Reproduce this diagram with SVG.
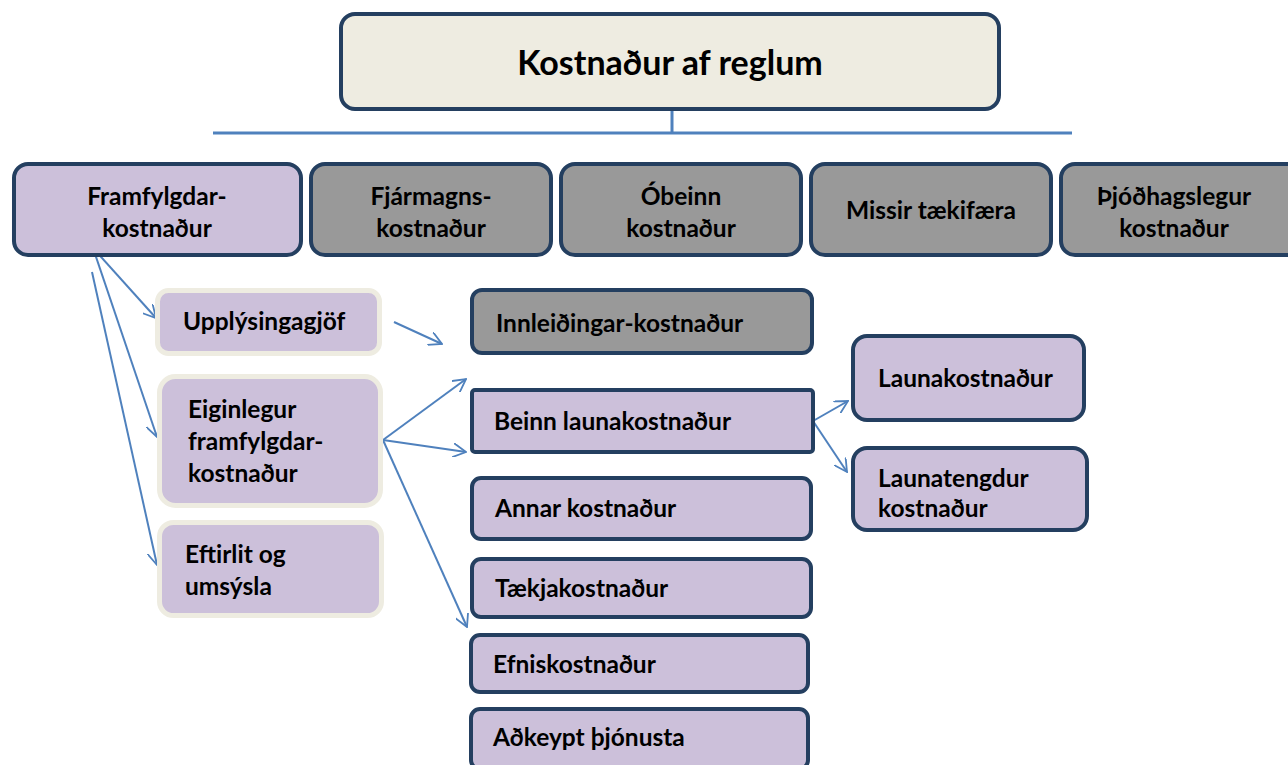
<svg xmlns="http://www.w3.org/2000/svg" width="1288" height="765" viewBox="0 0 1288 765">
<style>
.t{font-family:Lato,"Liberation Sans",sans-serif;font-weight:bold;fill:#000;font-size:24.5px}
.big{font-size:34px}
.dk{stroke:#243F60;stroke-width:4}
.lt{stroke:#EEECE1;stroke-width:5;fill:#CCC0DA}
.pu{fill:#CCC0DA}
.gr{fill:#999999}
.c{fill:none;stroke:#4F81BD;stroke-width:2;marker-end:url(#ah)}
</style>
<defs>
<marker id="ah" viewBox="0 0 14 14" refX="13" refY="7" markerWidth="14" markerHeight="14" markerUnits="userSpaceOnUse" orient="auto">
<path d="M0,0 L13,7 L0,14" fill="none" stroke="#4F81BD" stroke-width="1.8"/>
</marker>
</defs>
<rect width="1288" height="765" fill="#fff"/>
<g id="connectors">
<path d="M672,110 V133" fill="none" stroke="#4F81BD" stroke-width="3"/>
<path d="M213,133 H1072" fill="none" stroke="#4F81BD" stroke-width="3"/>
<path class="c" d="M93,248 L156,318"/>
<path class="c" d="M93,248 L157,437"/>
<path class="c" d="M92,272 L157,565"/>
<path class="c" d="M394,322 L442,344"/>
<path class="c" d="M383,440 L466,379"/>
<path class="c" d="M383,440 L466,452"/>
<path class="c" d="M383,440 L467,627"/>
<path class="c" d="M813,421 L848,401"/>
<path class="c" d="M813,421 L847,472"/>
</g>
<g id="root">
<rect class="dk" x="341" y="14" width="658" height="95" rx="14" fill="#EEECE1"/>
<text class="t big" x="670" y="75" text-anchor="middle">Kostnaður af reglum</text>
</g>
<g id="framfylgdar">
<rect class="dk pu" x="14" y="164" width="287" height="91" rx="14"/>
<text class="t" x="157" y="205" text-anchor="middle">Framfylgdar-</text>
<text class="t" x="157" y="237" text-anchor="middle">kostnaður</text>
</g>
<g id="fjarmagns">
<rect class="dk gr" x="311" y="164" width="240" height="91" rx="14"/>
<text class="t" x="431" y="205" text-anchor="middle">Fjármagns-</text>
<text class="t" x="431" y="237" text-anchor="middle">kostnaður</text>
</g>
<g id="obeinn">
<rect class="dk gr" x="561" y="164" width="240" height="91" rx="14"/>
<text class="t" x="681" y="205" text-anchor="middle">Óbeinn</text>
<text class="t" x="681" y="237" text-anchor="middle">kostnaður</text>
</g>
<g id="missir">
<rect class="dk gr" x="811" y="164" width="240" height="91" rx="14"/>
<text class="t" x="931" y="219" text-anchor="middle">Missir tækifæra</text>
</g>
<g id="thjodhags">
<rect class="dk gr" x="1061" y="164" width="240" height="91" rx="14"/>
<text class="t" x="1174" y="205" text-anchor="middle">Þjóðhagslegur</text>
<text class="t" x="1174" y="237" text-anchor="middle">kostnaður</text>
</g>
<g id="upplysingagjof">
<rect class="lt" x="157.5" y="290.5" width="222" height="63" rx="11"/>
<text class="t" x="183" y="330">Upplýsingagjöf</text>
</g>
<g id="eiginlegur">
<rect class="lt" x="159.5" y="376.5" width="221" height="129" rx="16"/>
<text class="t" x="188" y="418">Eiginlegur</text>
<text class="t" x="188" y="450">framfylgdar-</text>
<text class="t" x="188" y="482">kostnaður</text>
</g>
<g id="eftirlit">
<rect class="lt" x="159.5" y="522.5" width="222" height="93" rx="14"/>
<text class="t" x="185" y="563">Eftirlit og</text>
<text class="t" x="185" y="595">umsýsla</text>
</g>
<g id="innleidingar">
<rect class="dk gr" x="472" y="290" width="340" height="63" rx="10"/>
<text class="t" x="496" y="332">Innleiðingar-kostnaður</text>
</g>
<g id="beinn">
<rect class="dk pu" x="472" y="390" width="341" height="62" rx="3"/>
<text class="t" x="494" y="430">Beinn launakostnaður</text>
</g>
<g id="annar">
<rect class="dk pu" x="472" y="478" width="339" height="61" rx="9"/>
<text class="t" x="495" y="517">Annar kostnaður</text>
</g>
<g id="taekja">
<rect class="dk pu" x="472" y="559" width="339" height="58" rx="9"/>
<text class="t" x="495" y="597">Tækjakostnaður</text>
</g>
<g id="efnis">
<rect class="dk pu" x="471" y="635" width="337" height="57" rx="9"/>
<text class="t" x="493" y="673">Efniskostnaður</text>
</g>
<g id="adkeypt">
<rect class="dk pu" x="471" y="709" width="337" height="60" rx="9"/>
<text class="t" x="493" y="746">Aðkeypt þjónusta</text>
</g>
<g id="launakostnadur">
<rect class="dk pu" x="853" y="336" width="231" height="84" rx="14"/>
<text class="t" x="878" y="387">Launakostnaður</text>
</g>
<g id="launatengdur">
<rect class="dk pu" x="853" y="448" width="234" height="82" rx="14"/>
<text class="t" x="878" y="487">Launatengdur</text>
<text class="t" x="878" y="517">kostnaður</text>
</g>
</svg>
